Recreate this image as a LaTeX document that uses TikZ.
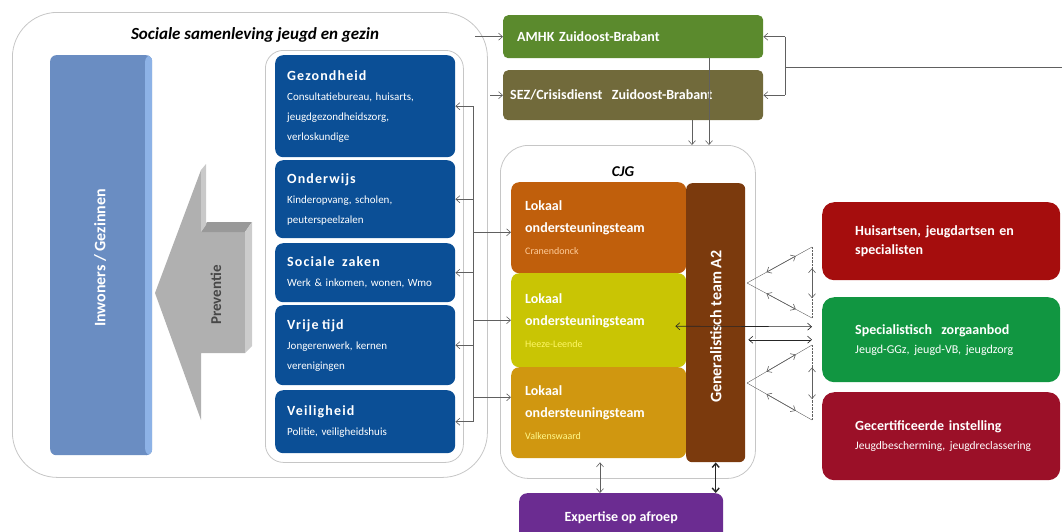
\documentclass[tikz,border=0pt]{standalone}
\usepackage{fontspec}
\setmainfont{Carlito}
\usetikzlibrary{arrows.meta,calc}

\definecolor{blauw}{HTML}{0B4F96}
\definecolor{inwblauw}{HTML}{6A8DC2}
\definecolor{inwlicht}{HTML}{8DB2E6}
\definecolor{amhkgroen}{HTML}{5B8A2D}
\definecolor{sezbruin}{HTML}{716A3B}
\definecolor{cranoranje}{HTML}{C05F0C}
\definecolor{heezegeel}{HTML}{C9C504}
\definecolor{valkgoud}{HTML}{D09710}
\definecolor{genbruin}{HTML}{7B3A0D}
\definecolor{huisrood}{HTML}{A50D0D}
\definecolor{speciaalgroen}{HTML}{119641}
\definecolor{gecrood}{HTML}{9B1028}
\definecolor{paars}{HTML}{6B2C91}

\newcommand{\blauwkop}[1]{{\bfseries\fontsize{14}{20}\selectfont\addfontfeatures{LetterSpace=8}#1}}

\begin{document}
\begin{tikzpicture}[x=1pt, y=-1pt,
    >={Straight Barb[length=4pt,width=7pt]},
    vak/.style={anchor=north west, rounded corners=8pt, text=white, align=left, inner ysep=0pt},
    blauwvak/.style={vak, fill=blauw, text width=156pt, inner xsep=12pt, font=\fontsize{11}{20}\selectfont},
    lotvak/.style={vak, text width=147pt, inner xsep=14pt, font=\fontsize{14}{22}\selectfont\bfseries},
    balk/.style={vak, rounded corners=5pt, font=\fontsize{14}{16}\selectfont\bfseries},
    rechtsvak/.style={vak, text width=172pt, inner xsep=33pt, rounded corners=12pt, font=\fontsize{14}{19}\selectfont\bfseries},
    groep/.style={draw=gray!45, line width=0.8pt, anchor=north west},
    lijn/.style={draw=gray!75!black, line width=0.6pt},
    pijl/.style={lijn, ->}]
\useasboundingbox (0,0) rectangle (1062,531);
\clip (0,0) rectangle (1062,531);

% sociale samenleving
\node[groep, minimum width=475pt, minimum height=465pt, rounded corners=45pt] (samenleving) at (12,12) {};
\node[font=\fontsize{17}{19}\selectfont\bfseries\itshape] (samentitel) at (255,35) {Sociale samenleving jeugd en gezin};

\node[vak, fill=inwblauw, minimum width=102pt, minimum height=400pt, rounded corners=6pt,
    path picture={\fill[inwlicht] ([xshift=-7pt]path picture bounding box.north east) rectangle (path picture bounding box.south east);}] (inw) at (50,55) {};
\node[rotate=90, text=white, font=\fontsize{16}{18}\selectfont\bfseries] (inwtekst) at (100,258) {Inwoners / Gezinnen};

% preventie pijl
\fill[gray!62] (155,293) -- (201,170) -- (201,232) -- (245,232) -- (245,353) -- (201,353) -- (201,420) -- cycle;
\fill[gray!80] (201,232) -- (207,222) -- (252,222) -- (245,232) -- cycle;
\fill[gray!40] (245,232) -- (252,222) -- (252,346) -- (245,353) -- cycle;
\fill[gray!42] (201,170) -- (206,164) -- (206,225) -- (201,232) -- cycle;
\node[rotate=90, text=black!72, font=\fontsize{15}{17}\selectfont\bfseries] (prevtekst) at (216,295) {Preventie};

\node[groep, minimum width=198pt, minimum height=412pt, rounded corners=18pt] (zorggroep) at (265,50) {};
\node[blauwvak, minimum height=102pt] (gezond) at (275,55) {\blauwkop{Gezondheid}\\Consultatiebureau, huisarts,\\jeugdgezondheidszorg,\\verloskundige};
\node[blauwvak, minimum height=78pt] (onderwijs) at (275,160) {\blauwkop{Onderwijs}\\Kinderopvang, scholen,\\peuterspeelzalen};
\node[blauwvak, minimum height=59pt] (zaken) at (275,243) {\blauwkop{Sociale\ \ zaken}\\Werk \& inkomen, wonen, Wmo};
\node[blauwvak, minimum height=80pt] (vrijetijd) at (275,305) {\blauwkop{Vrije tijd}\\Jongerenwerk, kernen\\verenigingen};
\node[blauwvak, minimum height=63pt] (veilig) at (275,390) {\blauwkop{Veiligheid}\\Politie, veiligheidshuis};

% AMHK en SEZ
\node[balk, fill=amhkgroen, minimum height=43pt, text width=232pt, inner xsep=14pt] (amhk) at (503,15) {AMHK Zuidoost-Brabant};
\node[balk, fill=sezbruin, minimum height=50pt, text width=246pt, inner xsep=7pt] (sez) at (503,70) {SEZ/Crisisdienst\ \ Zuidoost-Brabant};

% CJG
\node[groep, minimum width=255pt, minimum height=333pt, rounded corners=28pt] (cjg) at (500,145) {};
\node[font=\fontsize{15}{17}\selectfont\bfseries\itshape] (cjgtitel) at (623,172) {CJG};
\node[lotvak, fill=cranoranje, minimum height=91pt] (cran) at (511,182) {Lokaal\\ondersteuningsteam\\{\mdseries\fontsize{10}{22}\selectfont\color{orange!40} Cranendonck}};
\node[lotvak, fill=heezegeel, minimum height=94pt] (heeze) at (511,273) {Lokaal\\ondersteuningsteam\\{\mdseries\fontsize{10}{22}\selectfont\color{yellow!60} Heeze-Leende}};
\node[lotvak, fill=valkgoud, minimum height=91pt] (valk) at (511,367) {Lokaal\\ondersteuningsteam\\{\mdseries\fontsize{10}{22}\selectfont\color{yellow!45} Valkenswaard}};
\node[vak, fill=genbruin, minimum width=59pt, minimum height=279pt, rounded corners=6pt] (gen) at (686,183) {};
\node[rotate=90, text=white, font=\fontsize{16}{18}\selectfont\bfseries] (gentekst) at ([yshift=-4pt]gen.center) {Generalistisch team A2};

% rechts
\node[rechtsvak, fill=huisrood, minimum height=78pt] (huis) at (822,202) {Huisartsen, jeugdartsen en\\specialisten};
\node[rechtsvak, fill=speciaalgroen, minimum height=85pt] (spec) at (822,297) {Specialistisch\ \ zorgaanbod\\{\mdseries\fontsize{12}{19}\selectfont\mbox{Jeugd-GGz, jeugd-VB, jeugdzorg}}};
\node[rechtsvak, fill=gecrood, minimum height=88pt] (gec) at (822,392) {Gecertificeerde instelling\\{\mdseries\fontsize{11.5}{19}\selectfont\mbox{Jeugdbescherming, jeugdreclassering}}};

\node[vak, fill=paars, minimum width=204pt, minimum height=48pt, align=center, font=\fontsize{14}{16}\selectfont\bfseries] (expertise) at (519,493) {Expertise op afroep};

% verbindingen links
\coordinate (bus) at (473,0);
\draw[lijn] (gezond.east -| bus) -- (veilig.east -| bus);
\foreach \v in {gezond,onderwijs,zaken,vrijetijd,veilig}
    \draw[pijl] (\v.east -| bus) -- (\v.east);
\foreach \l in {cran.183,heeze.west,valk.170}
    \draw[pijl] (bus |- \l) -- (\l);

\coordinate (links1) at (475,0);
\coordinate (links2) at (490,0);
\draw[pijl] (amhk.west -| links1) -- (amhk.west);
\draw[pijl] (sez.west -| links2) -- (sez.west);

% verbindingen rechts boven
\coordinate (rbus) at (785,0);
\coordinate (rjunc) at (785,67);
\coordinate (rand) at (1062,67);
\draw[lijn] (amhk.east -| rbus) -- (sez.east -| rbus);
\draw[pijl] (amhk.east -| rbus) -- (amhk.east);
\draw[pijl] (sez.east -| rbus) -- (sez.east);
\draw[lijn] (rjunc) -- (rand);

\coordinate (neer1) at (692,0);
\coordinate (neer2) at (709,0);
\draw[pijl] (sez.south -| neer1) -- (cjg.north -| neer1);
\draw[pijl] (amhk.south -| neer2) -- (cjg.north -| neer2);

% driehoeken
\coordinate (t1a) at (747,283);
\coordinate (t1b) at (812,247);
\coordinate (t1c) at (812,318);
\coordinate (t2a) at (747,383);
\coordinate (t2b) at (812,345);
\coordinate (t2c) at (812,420);
\foreach \t in {1,2} {
    \draw[lijn, line width=0.4pt] (t\t a) -- (t\t b);
    \draw[lijn, line width=0.4pt] (t\t a) -- (t\t c);
    \draw[lijn, line width=0.4pt, densely dotted] (t\t b) -- (t\t c);
    \draw[pijl, <->] ($(t\t a)!0.3!(t\t b)$) -- ($(t\t a)!0.75!(t\t b)$);
    \draw[pijl, <->] ($(t\t a)!0.3!(t\t c)$) -- ($(t\t a)!0.75!(t\t c)$);
    \draw[pijl, <->] ($(t\t b)!0.3!(t\t c)$) -- ($(t\t b)!0.72!(t\t c)$);
}
\draw[pijl, <->, draw=black!85] ([xshift=-11pt, yshift=-6pt]heeze.east) -- ([xshift=-10pt, yshift=13pt]spec.west);
\draw[<->, double, double distance=1.2pt, draw=black!85, line width=0.6pt] ([xshift=3pt]gen.east |- spec.west) -- ([xshift=-10pt]spec.west);

% expertise
\coordinate (exp1) at (600,0);
\draw[pijl, <->] ([yshift=-4pt]valk.south -| exp1) -- (expertise.north -| exp1);
\draw[<->, line width=1.4pt, draw=black!85] (gen.south) -- (expertise.north -| gen.south);
\end{tikzpicture}
\end{document}
